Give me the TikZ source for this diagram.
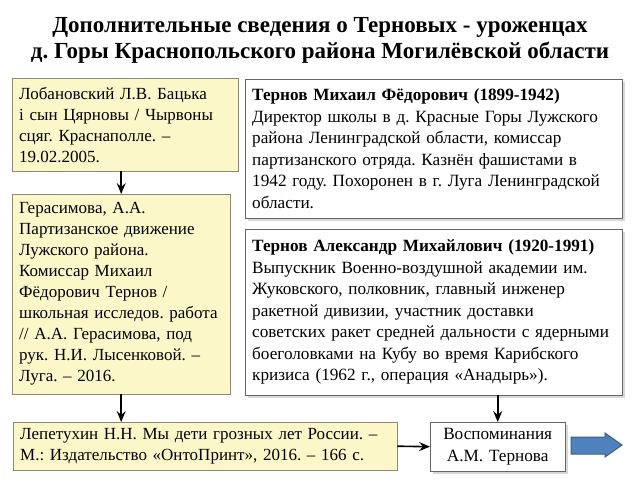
\documentclass[tikz,border=0pt]{standalone}
\usepackage{fontspec}
\setmainfont{Liberation Serif}
\frenchspacing
\usetikzlibrary{arrows.meta, positioning, shadows}
\definecolor{srcfill}{RGB}{252,247,201}
\definecolor{srcline}{RGB}{140,138,118}
\definecolor{arrblue}{RGB}{79,129,189}
\definecolor{arrline}{RGB}{56,93,138}

\begin{document}
\begin{tikzpicture}[x=1pt, y=-1pt, >={Stealth[length=11pt, width=9pt, inset=4pt]},
  src/.style={draw=srcline, fill=srcfill, anchor=north west, align=left,
    inner xsep=7pt, inner ysep=3pt, font=\fontsize{17}{21}\selectfont},
  info/.style={draw=black!60, fill=white, anchor=north west, align=left,
    inner xsep=7pt, inner ysep=3pt, font=\fontsize{17.2}{21.5}\selectfont,
    drop shadow={shadow xshift=2.5pt, shadow yshift=-2.5pt, fill=black!30}},
  link/.style={->, line width=1.6pt}]
\useasboundingbox (0,0) rectangle (640,480);

\node[font=\bfseries\fontsize{23}{26}\selectfont, align=center] (T) at (320,40)
  {Дополнительные сведения о Терновых - уроженцах\\
   д. Горы Краснопольского района Могилёвской области};

\node[src, text width=212pt, minimum height=93pt] (A) at (12,78)
  {Лобановский Л.В. Бацька\\ і сын Цярновы / Чырвоны\\ сцяг. Краснаполле. --\\ 19.02.2005.};
\node[src, text width=204pt, minimum height=200pt] (B) at (12,194)
  {Герасимова, А.А.\\ Партизанское движение\\ Лужского района.\\ Комиссар Михаил\\
   Фёдорович Тернов /\\ школьная исследов. работа\\ // А.А. Герасимова, под\\
   рук. Н.И. Лысенковой. --\\ Луга. -- 2016.};
\node[info, text width=363pt, minimum height=139pt] (C) at (245,79)
  {\textbf{Тернов Михаил Фёдорович (1899-1942)}\\
   Директор школы в д. Красные Горы Лужского\\ района Ленинградской области, комиссар\\
   партизанского отряда. Казнён фашистами в\\ 1942 году. Похоронен в г. Луга Ленинградской\\
   области.};
\node[info, text width=363pt, minimum height=166pt] (D) at (245,229)
  {\textbf{Тернов Александр Михайлович (1920-1991)}\\
   Выпускник Военно-воздушной академии им.\\ Жуковского, полковник, главный инженер\\
   ракетной дивизии, участник доставки\\ советских ракет средней дальности с ядерными\\
   боеголовками на Кубу во время Карибского\\ кризиса (1962 г., операция «Анадырь»).};
\node[src, text width=370pt, minimum height=48pt] (E) at (13,422)
  {Лепетухин Н.Н. Мы дети грозных лет России. --\\ М.: Издательство «ОнтоПринт», 2016. -- 166 с.};
\node[info, align=center, text width=121pt, minimum height=49pt] (F) at (430,422)
  {Воспоминания\\ А.М. Тернова};

\draw[link] (B.north |- A.south) -- (B.north);
\draw[link] (B.south) -- (B.south |- E.north);
\draw[link] (F.north |- D.south) -- (F.north);
\draw[link] (E.east) -- (F.west);

% big blue arrow
\draw[fill=arrblue, draw=arrline, line width=1pt]
  (571,437) -- (605,437) -- (605,433) -- (622,445) -- (605,457) -- (605,454) -- (571,454) -- cycle;
\end{tikzpicture}
\end{document}
